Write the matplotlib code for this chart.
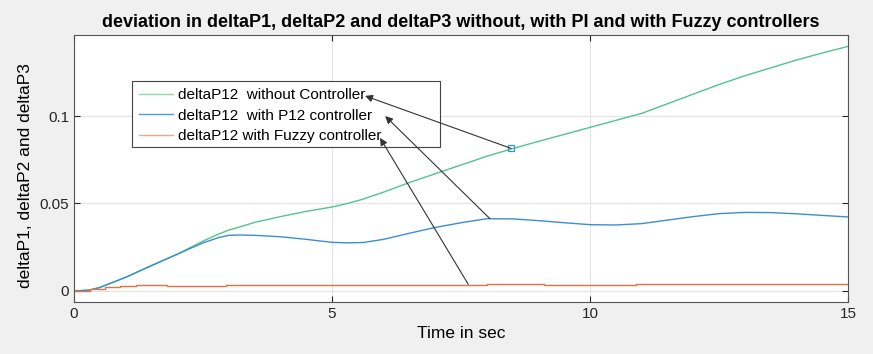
import matplotlib
matplotlib.use('Agg')
import matplotlib.pyplot as plt
from matplotlib.patches import Rectangle

plt.rcParams['font.family'] = ['Liberation Sans', 'DejaVu Sans']

# time axis (sec)
t = [0, 0.3, 0.5, 1.0, 1.5, 2.0, 2.5, 2.8, 3.0, 3.2, 3.5, 4.0, 4.5, 5.0, 5.3, 5.6,
     6.0, 6.5, 7.0, 7.5, 8.0, 8.5, 9.0, 9.5, 10.0, 10.5, 11.0, 11.5, 12.0, 12.5,
     13.0, 13.5, 14.0, 14.5, 15.0]

without_ctrl = [0, 0.0005, 0.002, 0.0078, 0.0145, 0.021, 0.0285, 0.0325, 0.0348, 0.0365,
                0.0392, 0.0425, 0.0455, 0.048, 0.050, 0.0525, 0.0565, 0.062, 0.067,
                0.072, 0.077, 0.0814, 0.0855, 0.0895, 0.0935, 0.0975, 0.1015, 0.107,
                0.1125, 0.118, 0.123, 0.1275, 0.132, 0.136, 0.1398]

with_pi = [0, 0.0005, 0.002, 0.0078, 0.0145, 0.021, 0.0275, 0.0305, 0.0318, 0.032,
           0.0318, 0.031, 0.0295, 0.0278, 0.0275, 0.0277, 0.0295, 0.033, 0.0363,
           0.039, 0.0413, 0.0412, 0.0402, 0.039, 0.0379, 0.0377, 0.0385, 0.0405,
           0.0425, 0.0442, 0.0449, 0.0448, 0.0441, 0.0432, 0.0423]

t_fuzzy = [0, 0.3, 0.6, 0.9, 1.2, 1.8, 2.95, 8.0, 9.1, 10.9, 15.0]
with_fuzzy = [0, 0.001, 0.002, 0.003, 0.0036, 0.0031, 0.0036, 0.0040, 0.0036, 0.0040, 0.0040]

labels = ['deltaP12  without Controller', 'deltaP12  with P12 controller',
          'deltaP12 with Fuzzy controller']
colors = ['#52c48d', '#3a8fd0', '#e8703f']
legend_colors = ['#8fd8b2', '#4a9ee0', '#f2a586']

fig = plt.figure(figsize=(8.73, 3.54), dpi=100, facecolor='#f0f0f0')
ax = fig.add_axes([0.0848, 0.1469, 0.8866, 0.7542])

ax.plot(t, without_ctrl, color=colors[0], lw=1.0, label=labels[0])
ax.plot(t, with_pi, color=colors[1], lw=1.0, label=labels[1])
ax.plot(t_fuzzy, with_fuzzy, color=colors[2], lw=1.0, drawstyle='steps-post', label=labels[2])

ax.set_xlim(0, 15)
ax.set_ylim(-0.0063, 0.1463)
ax.set_xticks([0, 5, 10, 15])
ax.set_yticks([0, 0.05, 0.1])
ax.set_yticklabels(['0', '0.05', '0.1'])
ax.grid(True, color='#e4e4e4', lw=0.8)
ax.set_axisbelow(True)
ax.tick_params(direction='in', top=True, right=True, labelsize=11, colors='#262626', length=4)
for s in ax.spines.values():
    s.set_color('#555555')
    s.set_linewidth(0.8)

ax.set_title('deviation in deltaP1, deltaP2 and deltaP3 without, with PI and with Fuzzy controllers',
             fontsize=13, fontweight='bold', pad=6)
ax.set_xlabel('Time in sec', fontsize=12.5, labelpad=4)
ax.set_ylabel('deltaP1, deltaP2 and deltaP3', fontsize=12.5)
ax.yaxis.set_label_coords(-0.053, 0.472)

# legend box (MATLAB draws it wider than the text)
ax.add_patch(Rectangle((0.0749, 0.5805), 0.398, 0.2472, transform=ax.transAxes,
                       facecolor='white', edgecolor='#444444', lw=0.8, zorder=4))
leg = ax.legend(loc='upper left', bbox_to_anchor=(0.078, 0.818), fontsize=11, frameon=False,
                handlelength=2.2, handletextpad=0.35, labelspacing=0.42, borderpad=0.3,
                borderaxespad=0)
leg.set_zorder(5)
for ln, c in zip(leg.get_lines(), legend_colors):
    ln.set_color(c)

# arrows from the curves to the legend entries
heads = [(5.64, 0.1115), (6.03, 0.1000), (5.93, 0.0875)]
tails = [(8.47, 0.0815), (8.06, 0.0413), (7.64, 0.0038)]
for h, tl in zip(heads, tails):
    ax.annotate('', xy=h, xytext=tl, zorder=6,
                arrowprops=dict(arrowstyle='-|>', color='#333333', lw=0.8,
                                mutation_scale=11, shrinkA=0, shrinkB=0))
ax.plot([tails[0][0]], [tails[0][1]], marker='s', ms=4, mfc='none', mec='#3a8fd0', mew=0.9)

fig.savefig('out.png', dpi=100, facecolor=fig.get_facecolor())
